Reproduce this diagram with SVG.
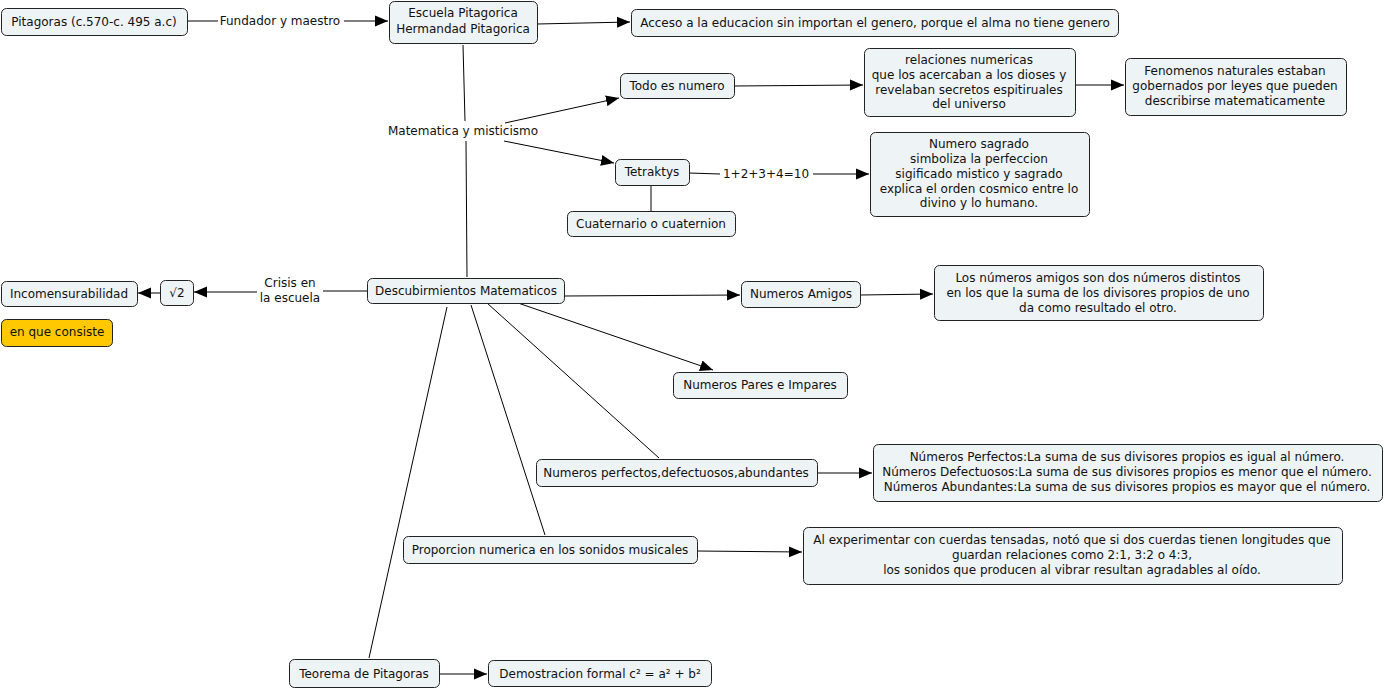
<svg xmlns="http://www.w3.org/2000/svg" width="1385" height="690" viewBox="0 0 1385 690">
<defs>
<marker id="arr" markerUnits="userSpaceOnUse" markerWidth="14" markerHeight="12" refX="13" refY="6" orient="auto">
<path d="M0,0.5 L13,6 L0,11.5 Z" fill="#000"/>
</marker>
<style>
.n rect{fill:#eef3f6;stroke:#222;stroke-width:1}
.y rect{fill:#ffc800;stroke:#222;stroke-width:1}
text{font-family:"DejaVu Sans",Verdana,sans-serif;font-size:12px;fill:#111;text-anchor:middle}
.c line{stroke:#000;stroke-width:1}
.c .a{marker-end:url(#arr)}
</style>
</defs>
<rect width="1385" height="690" fill="#fff"/>
<g class="c" id="connectors">
<line x1="187" y1="21" x2="218" y2="21"/>
<line class="a" x1="344" y1="21" x2="388" y2="21"/>
<line class="a" x1="537" y1="24" x2="630" y2="22"/>
<line x1="463" y1="45" x2="465" y2="121"/>
<line x1="466" y1="141" x2="467" y2="277"/>
<line class="a" x1="505" y1="123" x2="619" y2="98"/>
<line class="a" x1="504" y1="141" x2="614" y2="163"/>
<line class="a" x1="734" y1="86" x2="863" y2="85"/>
<line class="a" x1="1075" y1="85" x2="1124" y2="85"/>
<line x1="689" y1="173" x2="720" y2="174"/>
<line class="a" x1="813" y1="174" x2="869" y2="174"/>
<line x1="651" y1="185" x2="651" y2="211"/>
<line x1="367" y1="291" x2="323" y2="291"/>
<line class="a" x1="257" y1="292" x2="194" y2="292"/>
<line class="a" x1="160" y1="293" x2="138" y2="293"/>
<line class="a" x1="564" y1="296" x2="740" y2="295"/>
<line class="a" x1="860" y1="295" x2="933" y2="294"/>
<line class="a" x1="518" y1="303" x2="713" y2="370"/>
<line x1="487" y1="303" x2="659" y2="458"/>
<line x1="471" y1="305" x2="545" y2="535"/>
<line x1="447" y1="307" x2="369" y2="658"/>
<line class="a" x1="817" y1="473" x2="872" y2="473"/>
<line class="a" x1="697" y1="551" x2="802" y2="552"/>
<line class="a" x1="439" y1="674" x2="487" y2="674"/>
</g>
<g id="labels">
<text x="280" y="25">Fundador y maestro</text>
<text x="463" y="135">Matematica y misticismo</text>
<text x="766" y="178">1+2+3+4=10</text>
<text x="290" y="287">Crisis en</text>
<text x="290" y="302">la escuela</text>
</g>
<g class="n" id="pitagoras"><rect x="1.5" y="8.5" width="186" height="27" rx="5"/><text x="94" y="26">Pitagoras (c.570-c. 495 a.c)</text></g>
<g class="n" id="escuela"><rect x="389.5" y="1.5" width="148" height="42" rx="5"/><text x="463" y="17">Escuela Pitagorica</text><text x="463" y="33">Hermandad Pitagorica</text></g>
<g class="n" id="acceso"><rect x="631.5" y="9.5" width="487" height="27" rx="5"/><text x="875" y="27">Acceso a la educacion sin importan el genero, porque el alma no tiene genero</text></g>
<g class="n" id="todo"><rect x="620.5" y="73.5" width="114" height="25" rx="5"/><text x="677" y="90">Todo es numero</text></g>
<g class="n" id="relaciones"><rect x="864.5" y="48.5" width="211" height="68" rx="5"/><text x="969" y="64">relaciones numericas</text><text x="969" y="79">que los acercaban a los dioses y</text><text x="969" y="94">revelaban secretos espitiruales</text><text x="969" y="108">del universo</text></g>
<g class="n" id="fenomenos"><rect x="1125.5" y="58.5" width="221" height="57" rx="5"/><text x="1235" y="75">Fenomenos naturales estaban</text><text x="1235" y="90">gobernados por leyes que pueden</text><text x="1235" y="105">describirse matematicamente</text></g>
<g class="n" id="tetraktys"><rect x="615.5" y="159.5" width="74" height="26" rx="5"/><text x="652" y="176">Tetraktys</text></g>
<g class="n" id="cuaternario"><rect x="567.5" y="211.5" width="168" height="25" rx="5"/><text x="651" y="228">Cuaternario o cuaternion</text></g>
<g class="n" id="sagrado"><rect x="870.5" y="132.5" width="219" height="84" rx="5"/><text x="979" y="148">Numero sagrado</text><text x="979" y="163">simboliza la perfeccion</text><text x="979" y="178">sigificado mistico y sagrado</text><text x="979" y="193">explica el orden cosmico entre lo</text><text x="979" y="207">divino y lo humano.</text></g>
<g class="n" id="descubrimientos"><rect x="367.5" y="278.5" width="197" height="25" rx="5"/><text x="466" y="295">Descubirmientos Matematicos</text></g>
<g class="n" id="raiz2"><rect x="160.5" y="280.5" width="33" height="25" rx="5"/><text x="177" y="297">√2</text></g>
<g class="n" id="incomensurabilidad"><rect x="1.5" y="281.5" width="136" height="25" rx="5"/><text x="69" y="298">Incomensurabilidad</text></g>
<g class="y" id="consiste"><rect x="1.5" y="319.5" width="111" height="27" rx="5"/><text x="57" y="336">en que consiste</text></g>
<g class="n" id="amigos"><rect x="741.5" y="281.5" width="119" height="26" rx="5"/><text x="801" y="298">Numeros Amigos</text></g>
<g class="n" id="amigos-def"><rect x="934.5" y="265.5" width="329" height="55" rx="5"/><text x="1098" y="282">Los números amigos son dos números distintos</text><text x="1098" y="297">en los que la suma de los divisores propios de uno</text><text x="1098" y="312">da como resultado el otro.</text></g>
<g class="n" id="pares"><rect x="673.5" y="372.5" width="174" height="26" rx="5"/><text x="760" y="389">Numeros Pares e Impares</text></g>
<g class="n" id="perfectos"><rect x="536.5" y="459.5" width="281" height="27" rx="5"/><text x="676" y="477">Numeros perfectos,defectuosos,abundantes</text></g>
<g class="n" id="perfectos-def"><rect x="873.5" y="444.5" width="509" height="57" rx="5"/><text x="1127" y="461">Números Perfectos:La suma de sus divisores propios es igual al número.</text><text x="1127" y="476">Números Defectuosos:La suma de sus divisores propios es menor que el número.</text><text x="1127" y="491">Números Abundantes:La suma de sus divisores propios es mayor que el número.</text></g>
<g class="n" id="proporcion"><rect x="403.5" y="536.5" width="294" height="27" rx="5"/><text x="550" y="554">Proporcion numerica en los sonidos musicales</text></g>
<g class="n" id="experimentar"><rect x="803.5" y="527.5" width="539" height="57" rx="5"/><text x="1072" y="544">Al experimentar con cuerdas tensadas, notó que si dos cuerdas tienen longitudes que</text><text x="1072" y="559">guardan relaciones como 2:1, 3:2 o 4:3,</text><text x="1072" y="574">los sonidos que producen al vibrar resultan agradables al oído.</text></g>
<g class="n" id="teorema"><rect x="289.5" y="659.5" width="150" height="28" rx="5"/><text x="364" y="678">Teorema de Pitagoras</text></g>
<g class="n" id="demostracion"><rect x="488.5" y="660.5" width="223" height="26" rx="5"/><text x="600" y="678">Demostracion formal c² = a² + b²</text></g>
</svg>
